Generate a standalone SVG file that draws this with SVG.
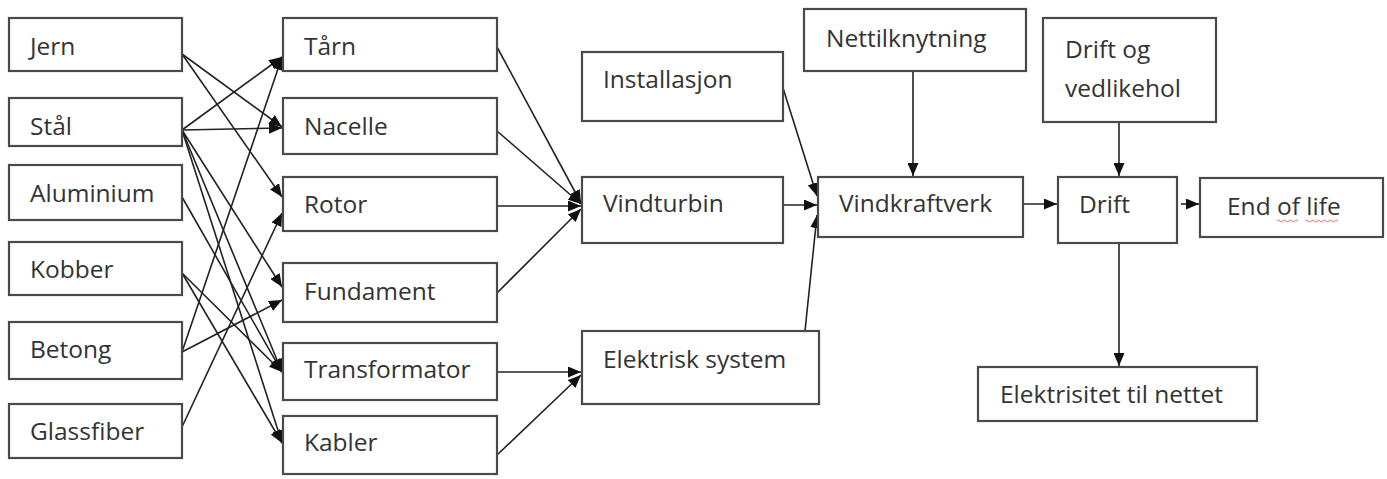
<svg xmlns="http://www.w3.org/2000/svg" width="1387" height="479" viewBox="0 0 1387 479">
<style>
.box{fill:#fff;stroke:#4a4a4a;stroke-width:2.2}
.lbl{font-family:"Open Sans","Liberation Sans",sans-serif;font-size:24.5px;fill:#333}
.ln{fill:none;stroke:#222;stroke-width:1.6;marker-end:url(#arr)}
</style>
<defs>
<marker id="arr" viewBox="0 0 13 11" refX="13" refY="5.5" markerWidth="13" markerHeight="11" markerUnits="userSpaceOnUse" orient="auto">
<path d="M0,0 L13,5.5 L0,11 z" fill="#111"/>
</marker>
</defs>
<rect width="1387" height="479" fill="#fff"/>
<g id="connectors">
<line class="ln" x1="182" y1="54" x2="282" y2="127"/>
<line class="ln" x1="182" y1="54" x2="282" y2="197"/>
<line class="ln" x1="182" y1="130" x2="282" y2="57"/>
<line class="ln" x1="182" y1="130" x2="282" y2="128"/>
<line class="ln" x1="182" y1="130" x2="282" y2="287"/>
<line class="ln" x1="182" y1="130" x2="282" y2="372"/>
<line class="ln" x1="182" y1="130" x2="282" y2="443"/>
<line class="ln" x1="182" y1="197" x2="282" y2="372"/>
<line class="ln" x1="182" y1="273" x2="282" y2="372"/>
<line class="ln" x1="182" y1="273" x2="282" y2="443"/>
<line class="ln" x1="182" y1="352" x2="282" y2="57"/>
<line class="ln" x1="182" y1="352" x2="282" y2="300"/>
<line class="ln" x1="182" y1="427" x2="282" y2="213"/>
<line class="ln" x1="497" y1="47" x2="581" y2="203"/>
<line class="ln" x1="497" y1="131" x2="581" y2="204"/>
<line class="ln" x1="497" y1="206" x2="581" y2="206"/>
<line class="ln" x1="497" y1="293" x2="581" y2="209"/>
<line class="ln" x1="497" y1="372" x2="581" y2="372"/>
<line class="ln" x1="497" y1="455" x2="581" y2="375"/>
<line class="ln" x1="783" y1="88" x2="817" y2="196"/>
<line class="ln" x1="783" y1="205" x2="817" y2="205"/>
<line class="ln" x1="805" y1="331" x2="817" y2="215"/>
<line class="ln" x1="913" y1="71" x2="913" y2="176"/>
<line class="ln" x1="1023" y1="204" x2="1057" y2="204"/>
<line class="ln" x1="1119" y1="122" x2="1119" y2="176"/>
<line class="ln" x1="1181" y1="204" x2="1199" y2="204"/>
<line class="ln" x1="1119" y1="243" x2="1119" y2="366"/>
</g>
<g id="jern"><rect class="box" x="9" y="18" width="173" height="53"/><text class="lbl" x="30" y="55">Jern</text></g>
<g id="staal"><rect class="box" x="9" y="98" width="173" height="48"/><text class="lbl" x="30" y="135">Stål</text></g>
<g id="aluminium"><rect class="box" x="9" y="165" width="173" height="55"/><text class="lbl" x="30" y="202">Aluminium</text></g>
<g id="kobber"><rect class="box" x="9" y="242" width="173" height="53"/><text class="lbl" x="30" y="278">Kobber</text></g>
<g id="betong"><rect class="box" x="9" y="322" width="173" height="57"/><text class="lbl" x="30" y="358">Betong</text></g>
<g id="glassfiber"><rect class="box" x="9" y="404" width="173" height="54"/><text class="lbl" x="30" y="440">Glassfiber</text></g>
<g id="taarn"><rect class="box" x="283" y="18" width="214" height="53"/><text class="lbl" x="304" y="55">Tårn</text></g>
<g id="nacelle"><rect class="box" x="283" y="98" width="214" height="56"/><text class="lbl" x="304" y="135">Nacelle</text></g>
<g id="rotor"><rect class="box" x="283" y="177" width="214" height="54"/><text class="lbl" x="304" y="213">Rotor</text></g>
<g id="fundament"><rect class="box" x="283" y="263" width="214" height="59"/><text class="lbl" x="304" y="300">Fundament</text></g>
<g id="transformator"><rect class="box" x="283" y="343" width="214" height="57"/><text class="lbl" x="304" y="378">Transformator</text></g>
<g id="kabler"><rect class="box" x="283" y="416" width="214" height="58"/><text class="lbl" x="304" y="451">Kabler</text></g>
<g id="installasjon"><rect class="box" x="582" y="52" width="201" height="69"/><text class="lbl" x="603" y="88">Installasjon</text></g>
<g id="vindturbin"><rect class="box" x="582" y="177" width="201" height="66"/><text class="lbl" x="603" y="212">Vindturbin</text></g>
<g id="elektrisk-system"><rect class="box" x="582" y="331" width="237" height="73"/><text class="lbl" x="603" y="368">Elektrisk system</text></g>
<g id="nettilknytning"><rect class="box" x="804" y="9" width="222" height="62"/><text class="lbl" x="826" y="47">Nettilknytning</text></g>
<g id="vindkraftverk"><rect class="box" x="818" y="177" width="205" height="60"/><text class="lbl" x="839" y="212">Vindkraftverk</text></g>
<g id="drift-og-vedlikehold"><rect class="box" x="1043" y="18" width="173" height="104"/><text class="lbl" x="1065" y="58">Drift og</text><text class="lbl" x="1065" y="97">vedlikehol</text></g>
<g id="drift"><rect class="box" x="1058" y="177" width="119" height="66"/><text class="lbl" x="1079" y="213">Drift</text></g>
<g id="end-of-life"><rect class="box" x="1200" y="178" width="183" height="59"/><text class="lbl" x="1227" y="215">End of life</text>
<path d="M1277,221 q1.5,-1.5 3,0 t3,0 t3,0 t3,0 t3,0 t3,0 t3,0 M1305,221 q1.5,-1.5 3,0 t3,0 t3,0 t3,0 t3,0 t3,0 t3,0 t3,0 t3,0 t3,0 t3,0" fill="none" stroke="#e8a0a0" stroke-width="1.3"/></g>
<g id="elektrisitet-til-nettet"><rect class="box" x="978" y="367" width="279" height="54"/><text class="lbl" x="1000" y="403">Elektrisitet til nettet</text></g>
</svg>
